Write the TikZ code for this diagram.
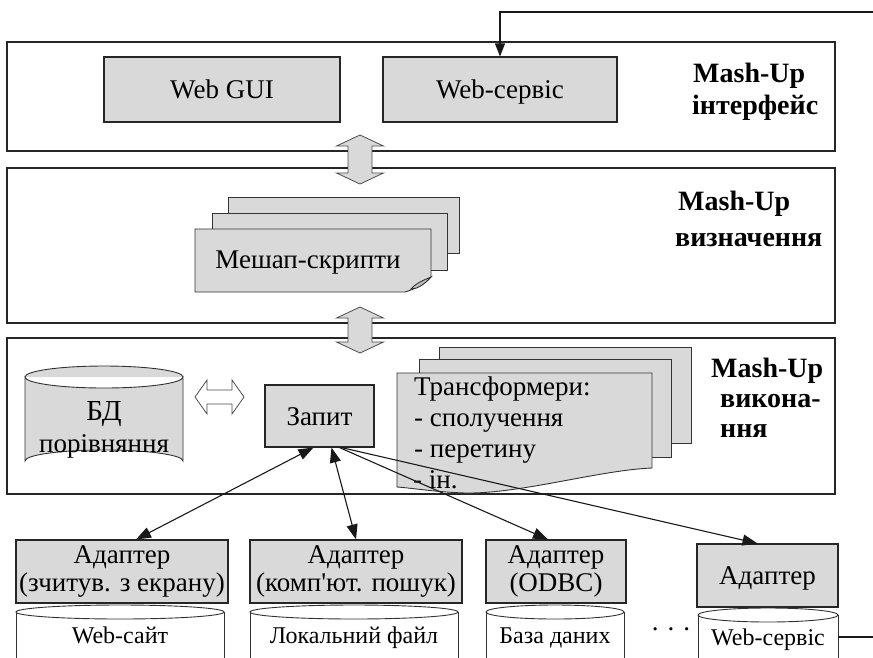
\documentclass[tikz,border=0pt]{standalone}
\usepackage{fontspec}
\setmainfont{Liberation Serif}
\usetikzlibrary{arrows.meta,calc}
\definecolor{boxgray}{HTML}{D9D9D9}
\newcommand\mydarrowv[3]{%
  \filldraw[fat] (#1-12,#2+11) -- (#1-23.5,#2+11) -- (#1,#2) -- (#1+23.5,#2+11) -- (#1+12,#2+11)
   -- (#1+12,#3-11) -- (#1+23.5,#3-11) -- (#1,#3) -- (#1-23.5,#3-11) -- (#1-12,#3-11) -- cycle;}
\newcommand\mydarrowh[3]{%
  \filldraw[hollow] (#1,#3) -- (#1+12,#3-17) -- (#1+12,#3-7) -- (#2-12,#3-7) -- (#2-12,#3-17)
   -- (#2,#3) -- (#2-12,#3+17) -- (#2-12,#3+7) -- (#1+12,#3+7) -- (#1+12,#3+17) -- cycle;}
\newcommand\mycylcut[3]{% xl xr ytop
  \fill[white] (#1,#3+7) rectangle (#2,670);
  \draw[cyl] (#1,#3+7) -- (#1,670) (#2,#3+7) -- (#2,670);
  \filldraw[cyl, fill=white] ({(#1+#2)/2},#3+7) ellipse ({(#2-#1)/2} and 7);}
\tikzset{
  layer/.style={draw=black!85, line width=1.3pt, fill=white, inner sep=0},
  gbox/.style={draw=black!85, line width=1.1pt, fill=boxgray, inner sep=0, align=center,
     font=\fontsize{27}{28}\selectfont},
  oneline/.style={text height=18pt, text depth=0pt},
  sheet/.style={draw=black!80, line width=0.9pt, fill=boxgray},
  lbl/.style={font=\fontsize{28}{30}\selectfont\bfseries, anchor=base west, inner sep=0},
  txt/.style={font=\fontsize{27}{28}\selectfont, anchor=base west, inner sep=0},
  dbtxt/.style={font=\fontsize{24}{26}\selectfont, anchor=base, inner sep=0},
  fat/.style={draw=black!70, line width=0.8pt, fill=boxgray},
  hollow/.style={draw=black!70, line width=0.8pt, fill=white},
  cyl/.style={draw=black!80, line width=0.9pt},
  conn/.style={draw=black!90, line width=1.1pt},
}
\begin{document}
\begin{tikzpicture}[x=1pt,y=-1pt, >={Triangle[length=15pt,width=11pt]}]
\useasboundingbox (0,0) rectangle (873,657);
\clip (0,0) rectangle (873,657);
\fill[white] (0,0) rectangle (873,657);

% layers
\node[layer, minimum width=828pt, minimum height=109pt] (L1) at (421,96.5) {};
\node[layer, minimum width=828pt, minimum height=155pt] (L2) at (421,245.5) {};
\node[layer, minimum width=828pt, minimum height=156pt] (L3) at (421,416) {};

% layer 1
\node[gbox, oneline, minimum width=236pt, minimum height=65pt] (gui) at (222,89.5) {Web GUI};
\node[gbox, oneline, minimum width=234pt, minimum height=65pt] (wserv) at (500,89.5) {Web-сервіс};
\node[lbl] (lab1a) at (693,82) {Mash-Up};
\node[lbl] (lab1b) at (692,114) {інтерфейс};

% layer 2
\filldraw[sheet] (228,197) rectangle (459,253);
\filldraw[sheet] (212,213) rectangle (447,270);
\filldraw[sheet] (195,229) -- (431,229) -- (431,277) .. controls (425,284) and (415,289) .. (405,292) -- (195,292) -- cycle;
\draw[sheet, fill=black!25] (431,277) .. controls (424,280) and (416,283) .. (411,289) .. controls (416,289) and (423,286) .. (431,277) -- cycle;
\node[txt, anchor=base] (mesh) at (308,268) {Мешап-скрипти};
\node[lbl] (lab2a) at (678,210) {Mash-Up};
\node[lbl] (lab2b) at (675,246) {визначення};

% layer 3
\filldraw[sheet, fill=boxgray] (25,377) -- (25,461) arc[start angle=180, end angle=360, x radius=79, y radius=11] -- (183,377) arc[start angle=0, end angle=180, x radius=79, y radius=11] -- cycle;
\draw[sheet] (25,377) arc[start angle=180, end angle=360, x radius=79, y radius=11];
\node[txt, anchor=base, font=\fontsize{29}{30}\selectfont] (bd1) at (104,420) {БД};
\node[txt, anchor=base] (bd2) at (104,452) {порівняння};
\mydarrowh{195}{244}{397}
\node[gbox, oneline, minimum width=109pt, minimum height=62pt] (zap) at (319.5,416) {Запит};
\filldraw[sheet] (439,347) rectangle (691,443);
\filldraw[sheet] (419,359) rectangle (671,457);
\filldraw[sheet] (397,373) -- (652,373) -- (652,468) .. controls (600,470) and (520,494) .. (465,493)
   .. controls (435,492) and (412,488) .. (397,487) -- cycle;
\node[txt] (tr1) at (414,395) {Трансформери:};
\node[txt] (tr2) at (414,426) {- сполучення};
\node[txt] (tr3) at (414,457) {- перетину};
\node[txt] (tr4) at (413,488) {- ін.};
\node[lbl] (lab3a) at (711,377) {Mash-Up};
\node[lbl] (lab3b) at (720,407) {викона-};
\node[lbl] (lab3c) at (720,437) {ння};

% inter-layer arrows
\mydarrowv{360}{135}{184}
\mydarrowv{360}{307}{353}

% adapters
\node[gbox, minimum width=212pt, minimum height=63pt] (a1) at (122,571.5) {Адаптер\\(зчитув. з екрану)};
\node[gbox, minimum width=212pt, minimum height=63pt] (a2) at (356,571.5) {Адаптер\\(комп\textquotesingle ют. пошук)};
\node[gbox, minimum width=140pt, minimum height=63pt] (a3) at (556,571.5) {Адаптер\\(ODBC)};
\node[gbox, oneline, minimum width=141pt, minimum height=63pt] (a4) at (767.5,575.5) {Адаптер};

% data sources
\mycylcut{16}{224}{605}
\mycylcut{250}{458}{605}
\mycylcut{486}{624}{605}
\mycylcut{698}{838}{608}
\node[dbtxt] (src1) at (120,643) {Web-сайт};
\node[dbtxt] (src2) at (354,643) {Локальний файл};
\node[dbtxt] (src3) at (555,643) {База даних};
\node[dbtxt] (src4) at (768,645) {Web-сервіс};
\node[font=\fontsize{27}{28}\selectfont, anchor=base, inner sep=0] (dots) at (671,630) {.\,\,.\,\,.};

% connectors
\draw[conn, <->] ([xshift=-6pt]zap.south) -- ([xshift=14pt]a1.north);
\draw[conn, <->] ([xshift=12pt]zap.south) -- (a2.north);
\draw[conn, ->] ([xshift=20pt]zap.south) -- ([xshift=-8pt]a3.north);
\draw[conn, ->] ([xshift=22pt]zap.south) -- ([xshift=-10pt]a4.north);

\coordinate (c4e) at (838,637);
\coordinate (redge) at (873,637);
\coordinate (rtop) at (873,12);
\draw[conn] (c4e) -- (redge);
\draw[conn, -{Triangle[length=13pt,width=10pt]}] (rtop) -| (wserv.north);
\end{tikzpicture}
\end{document}
